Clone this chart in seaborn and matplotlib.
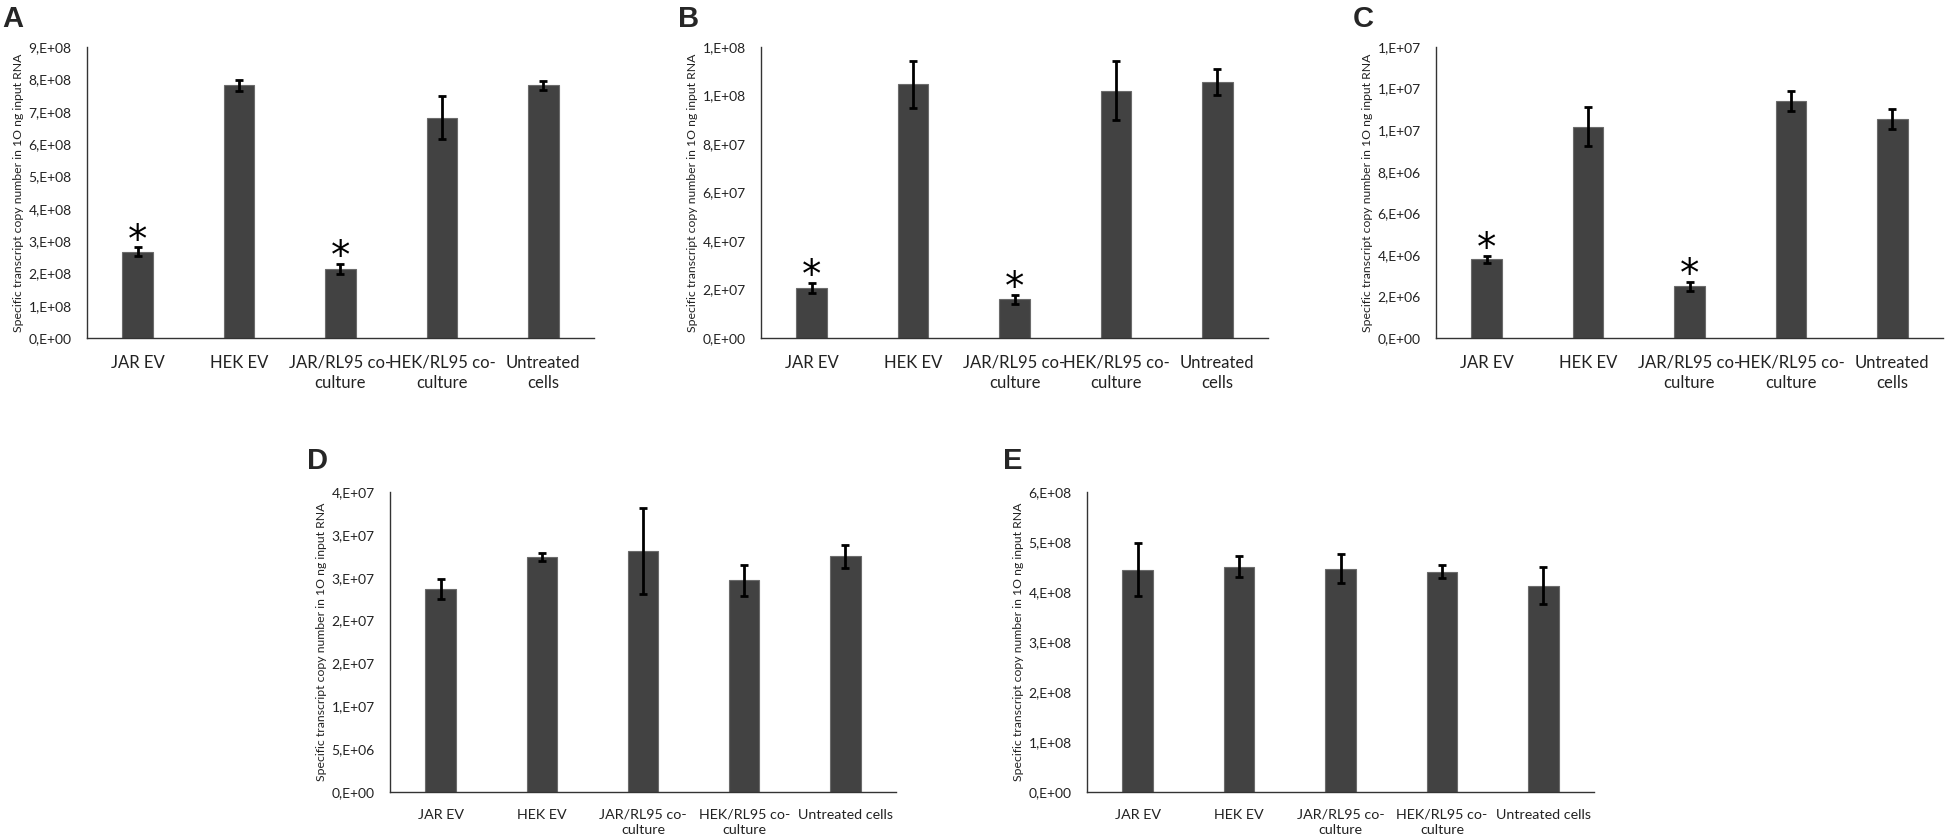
"""Transcript copy numbers per treatment group, five panels (A-E)."""

import matplotlib

matplotlib.use("Agg")
import matplotlib.pyplot as plt
import numpy as np
import pandas as pd
import seaborn as sns
from matplotlib.ticker import FuncFormatter, MultipleLocator

# ---- data ----
groups_top = ["JAR EV", "HEK EV", "JAR/RL95 co-\nculture", "HEK/RL95 co-\nculture", "Untreated\ncells"]
groups_bottom = ["JAR EV", "HEK EV", "JAR/RL95 co-\nculture", "HEK/RL95 co-\nculture", "Untreated cells"]

mean_a = [2.67e8, 7.81e8, 2.13e8, 6.81e8, 7.81e8]
sd_a = [1.3e7, 1.8e7, 1.55e7, 6.6e7, 1.25e7]

mean_b = [2.08e7, 1.046e8, 1.59e7, 1.019e8, 1.055e8]
sd_b = [2.05e6, 9.7e6, 1.8e6, 1.22e7, 5.4e6]

mean_c = [3.79e6, 1.016e7, 2.48e6, 1.141e7, 1.054e7]
sd_c = [1.7e5, 9.4e5, 2.3e5, 4.9e5, 4.9e5]

mean_d = [2.37e7, 2.74e7, 2.81e7, 2.47e7, 2.75e7]
sd_d = [1.15e6, 4.7e5, 5.05e6, 1.8e6, 1.33e6]

mean_e = [4.45e8, 4.51e8, 4.47e8, 4.41e8, 4.13e8]
sd_e = [5.35e7, 2.1e7, 2.85e7, 1.37e7, 3.75e7]

starred = [0, 2]  # groups marked significant in panels A-C

YLABEL = "Specific transcript copy number in 1O ng input RNA"
BAR_COLOR = "#424242"
FONT = ["Lato", "DejaVu Sans"]


def excel_sci(v, pos=None):
    # mimics Excel's "0,E+00" number format (rounds half up)
    if v == 0:
        return "0,E+00"
    exp = int(np.floor(np.log10(abs(v))))
    m = int(np.floor(v / 10**exp + 0.5 + 1e-9))
    if m == 10:
        m, exp = 1, exp + 1
    return f"{m},E+{exp:02d}"


def draw_panel(ax, groups, means, sds, ymax, step, xfs, stars=()):
    df = pd.DataFrame({"group": groups, "value": means})
    sns.barplot(data=df, x="group", y="value", color=BAR_COLOR, width=0.3,
                edgecolor="#6b6b6b", linewidth=0.8, saturation=1,
                errorbar=None, ax=ax)
    x = np.arange(len(groups))
    ax.errorbar(x, means, yerr=sds, fmt="none", ecolor="black",
                elinewidth=2.0, capsize=3, capthick=2.0, zorder=5)
    for i in stars:
        ax.annotate("*", xy=(i, means[i] + sds[i]), xytext=(0, -3),
                    textcoords="offset points", ha="center", va="baseline",
                    fontsize=28, family="DejaVu Sans", color="black")

    ax.set_xlim(-0.5, len(groups) - 0.5)
    ax.set_ylim(0, ymax)
    ax.yaxis.set_major_locator(MultipleLocator(step))
    ax.yaxis.set_major_formatter(FuncFormatter(excel_sci))
    ax.set_xlabel("")
    ax.set_ylabel(YLABEL, fontsize=8.8, family=FONT, color="#222222")
    ax.yaxis.set_label_coords(-0.125, 0.5)
    ax.tick_params(axis="y", length=0, pad=11, labelsize=10, labelcolor="#222222")
    ax.tick_params(axis="x", length=0, pad=12, labelsize=xfs, labelcolor="#222222")
    for lab in ax.get_xticklabels() + ax.get_yticklabels():
        lab.set_family(FONT)
        lab.set_linespacing(1.35)
    for side in ("top", "right"):
        ax.spines[side].set_visible(False)
    for side in ("left", "bottom"):
        ax.spines[side].set_color("#333333")
        ax.spines[side].set_linewidth(1.0)
    ax.grid(False)


sns.set_style("white")
plt.rcParams["font.family"] = FONT

W, H = 1946, 839
fig = plt.figure(figsize=(W / 100, H / 100), dpi=100)


def axes_px(left, top, right, bottom):
    return fig.add_axes([left / W, 1 - bottom / H, (right - left) / W, (bottom - top) / H])


ax_a = axes_px(87, 47, 594, 338)
ax_b = axes_px(761, 47, 1268, 338)
ax_c = axes_px(1436, 47, 1943, 338)
ax_d = axes_px(390, 492, 896, 792)
ax_e = axes_px(1087, 492, 1594, 792)

draw_panel(ax_a, groups_top, mean_a, sd_a, 9e8, 1e8, 12, starred)
draw_panel(ax_b, groups_top, mean_b, sd_b, 1.2e8, 2e7, 12, starred)
draw_panel(ax_c, groups_top, mean_c, sd_c, 1.4e7, 2e6, 12, starred)
draw_panel(ax_d, groups_bottom, mean_d, sd_d, 3.5e7, 5e6, 10.3)
draw_panel(ax_e, groups_bottom, mean_e, sd_e, 6e8, 1e8, 10.3)

for letter, (px, py) in zip("ABCDE", [(2, 5), (678, 5), (1353, 5), (307, 447), (1003, 447)]):
    fig.text(px / W, 1 - py / H, letter, ha="left", va="top", fontsize=21,
             fontweight="bold", family=["Liberation Sans", "DejaVu Sans"])

fig.savefig("out.png", dpi=100, facecolor="white")
